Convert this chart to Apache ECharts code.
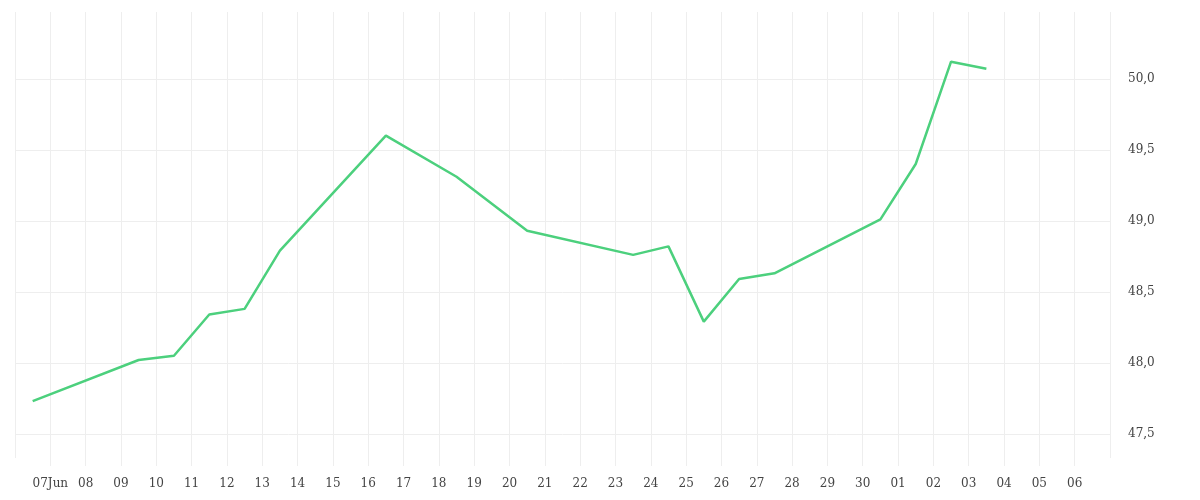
<!DOCTYPE html>
<html>
<head>
<meta charset="utf-8">
<script src="https://cdn.jsdelivr.net/npm/echarts@6/dist/echarts.min.js"></script>
<style>html,body{margin:0;padding:0;background:#fff}#chart{width:1200px;height:500px}</style>
</head>
<body>
<div id="chart"></div>
<script>
// day offsets from 07 Jun (points sit at midday)
var days = [-0.5, 2.5, 3.5, 4.5, 5.5, 6.5, 9.5, 11.5, 13.5, 16.5, 17.5, 18.5, 19.5, 20.5, 23.5, 24.5, 25.5, 26.5];
var values = [47.73, 48.02, 48.05, 48.34, 48.38, 48.79, 49.60, 49.31, 48.93, 48.76, 48.82, 48.29, 48.59, 48.63, 49.01, 49.40, 50.12, 50.07];
var dayLabels = ['07Jun','08','09','10','11','12','13','14','15','16','17','18','19','20','21','22','23','24','25','26','27','28','29','30','01','02','03','04','05','06'];
var yTicks = [47.5, 48.0, 48.5, 49.0, 49.5, 50.0];

var myChart = echarts.init(document.getElementById('chart'));
var font = 'DejaVu Serif';
var option = {
    animation: false,
    grid: { left: 15, right: 90, top: 12, bottom: 42 },
    xAxis: {
        type: 'value',
        min: -1,
        max: 30,
        interval: 1,
        axisLine: { show: false },
        axisTick: { show: true, length: 8, lineStyle: { color: '#eeeeee' } },
        splitLine: { show: true, lineStyle: { color: '#eeeeee' } },
        axisLabel: {
            color: '#444', fontFamily: font, fontSize: 12, margin: 20,
            showMinLabel: false, showMaxLabel: false,
            formatter: function (v) { return dayLabels[v] || ''; }
        }
    },
    yAxis: {
        type: 'value',
        position: 'right',
        min: 47.33,
        max: 50.47,
        axisLine: { show: false },
        axisTick: { show: false, customValues: yTicks },
        splitLine: { show: true, lineStyle: { color: '#eeeeee' } },
        axisLabel: {
            color: '#444', fontFamily: font, fontSize: 12, margin: 18,
            customValues: yTicks,
            formatter: function (v) { return v.toFixed(1).replace('.', ','); }
        }
    },
    series: [{
        type: 'line',
        data: days.map(function (d, i) { return [d, values[i]]; }),
        showSymbol: false,
        lineStyle: { color: '#4cd07d', width: 2.5 },
        itemStyle: { color: '#4cd07d' }
    }]
};
myChart.setOption(option);
</script>
</body>
</html>
